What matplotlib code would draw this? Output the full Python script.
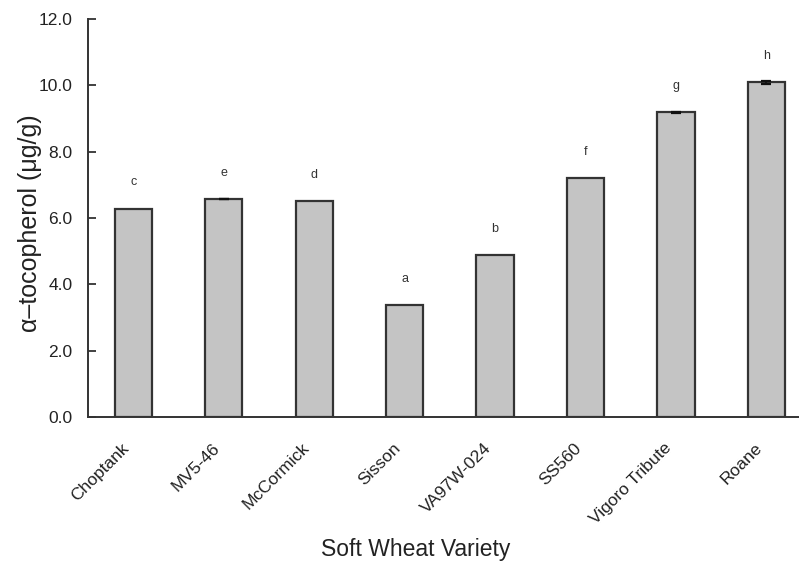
import matplotlib
matplotlib.use("Agg")
import matplotlib.pyplot as plt
import matplotlib.transforms as mtransforms
import numpy as np

plt.rcParams['font.family'] = ['Liberation Sans', 'DejaVu Sans']

varieties = ["Choptank", "MV5-46", "McCormick", "Sisson", "VA97W-024", "SS560", "Vigoro Tribute", "Roane"]
values = [6.27, 6.57, 6.50, 3.37, 4.88, 7.20, 9.19, 10.09]
errors = [0.0, 0.01, 0.0, 0.0, 0.0, 0.0, 0.01, 0.04]
letters = ["c", "e", "d", "a", "b", "f", "g", "h"]
yticks = [0, 2, 4, 6, 8, 10, 12]

fig = plt.figure(figsize=(7.99, 5.61), dpi=100)
ax = fig.add_axes([0.110, 0.257, 0.89, 0.709])

x = np.arange(len(varieties))
ax.bar(x, values, width=0.41, color="#c4c4c4", edgecolor="#333333", linewidth=1.6, zorder=2)

ex = [xi for xi, e in zip(x, errors) if e > 0]
ev = [v for v, e in zip(values, errors) if e > 0]
ee = [e for e in errors if e > 0]
ax.errorbar(ex, ev, yerr=ee, fmt="none", ecolor="#111111", elinewidth=1.2,
            capsize=3.5, capthick=1.6, zorder=3)

for xi, v, lab in zip(x, values, letters):
    ax.text(xi, v + 0.8, lab, ha="center", va="center", fontsize=9, color="#333333")

ax.set_xlim(-0.5, 7.36)
ax.set_ylim(0, 12)
ax.set_yticks(yticks)
ax.set_yticklabels([f"{t:.1f}" for t in yticks], fontsize=12.5, color="#222222")
ax.tick_params(axis="y", direction="in", length=6, width=1.3, color="#333333", pad=11)
ax.set_xticks(x)
ax.set_xticklabels(varieties, rotation=45, ha="right", va="top", rotation_mode="anchor",
                   fontsize=12.5, color="#222222")
ax.tick_params(axis="x", length=0, pad=17)
offset = mtransforms.ScaledTranslation(-12 / 100, 0, fig.dpi_scale_trans)
for lbl in ax.get_xticklabels():
    lbl.set_transform(lbl.get_transform() + offset)

for s in ["top", "right"]:
    ax.spines[s].set_visible(False)
for s in ["left", "bottom"]:
    ax.spines[s].set_linewidth(1.4)
    ax.spines[s].set_color("#333333")

ax.set_ylabel("α–tocopherol (μg/g)", fontsize=18, color="#222222")
ax.yaxis.set_label_coords(-0.064, 0.488)
ax.set_xlabel("Soft Wheat Variety", fontsize=16.5, color="#222222")
ax.xaxis.set_label_coords(0.461, -0.305)

fig.savefig("out.png", dpi=100)
